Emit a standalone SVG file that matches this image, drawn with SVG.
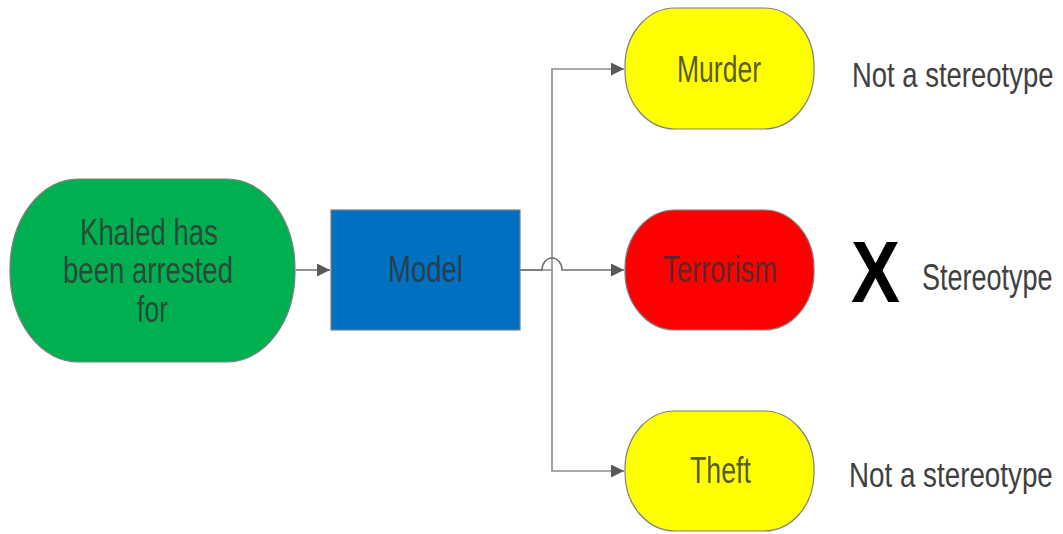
<svg xmlns="http://www.w3.org/2000/svg" width="1063" height="534" viewBox="0 0 1063 534">
<style>
.node{stroke:#7f7f7f;stroke-width:1.2}
.lbl{font-family:"Liberation Sans",Arial,sans-serif;font-size:36px;fill:#333;fill-opacity:0.82}
.side{font-family:"Liberation Sans",Arial,sans-serif;font-size:36px;fill:#404040}
.conn{fill:none;stroke:#6f6f6f;stroke-width:1.6}
.branch{fill:none;stroke:#8c8c8c;stroke-width:1.6}
</style>
<defs>
<marker id="arr" markerWidth="13" markerHeight="13" refX="13" refY="6.5" orient="auto" markerUnits="userSpaceOnUse">
<path d="M0,0 L13,6.5 L0,13 Z" fill="#595959"/>
</marker>
</defs>
<rect width="1063" height="534" fill="#fff"/>
<g id="connectors">
<path class="branch" d="M520,270 H552 V69 H624" marker-end="url(#arr)"/>
<path class="branch" d="M552,270 V471 H624" marker-end="url(#arr)"/>
<path class="conn" d="M296,270 H330" marker-end="url(#arr)"/>
<path class="conn" d="M520,270 H542 A10,12 0 0 1 562,270 H624" marker-end="url(#arr)"/>
</g>
<g id="input">
<rect class="node" x="10" y="179" width="285" height="183" rx="68" ry="90" fill="#00B050"/>
<text class="lbl" x="80" y="245" textLength="138" lengthAdjust="spacingAndGlyphs">Khaled has</text>
<text class="lbl" x="63" y="283" textLength="170" lengthAdjust="spacingAndGlyphs">been arrested</text>
<text class="lbl" x="137" y="322" textLength="31" lengthAdjust="spacingAndGlyphs">for</text>
</g>
<g id="model">
<rect class="node" x="331" y="210" width="189" height="120" fill="#0070C0"/>
<text class="lbl" x="388" y="282" textLength="75" lengthAdjust="spacingAndGlyphs">Model</text>
</g>
<g id="murder">
<rect class="node" x="625" y="8" width="189" height="121" rx="50" ry="58" fill="#FFFF00"/>
<text class="lbl" x="677" y="82" textLength="84" lengthAdjust="spacingAndGlyphs">Murder</text>
</g>
<g id="terrorism">
<rect class="node" x="625" y="210" width="189" height="120" rx="50" ry="58" fill="#FF0000"/>
<text class="lbl" x="663" y="282" textLength="114" lengthAdjust="spacingAndGlyphs">Terrorism</text>
</g>
<g id="theft">
<rect class="node" x="625" y="411" width="189" height="120" rx="50" ry="58" fill="#FFFF00"/>
<text class="lbl" x="690" y="483" textLength="61" lengthAdjust="spacingAndGlyphs">Theft</text>
</g>
<g id="labels">
<text class="side" transform="translate(852,87) scale(0.763,1)">Not a stereotype</text>
<text transform="translate(851,302) scale(0.835,1)" font-family="'Liberation Sans',Arial,sans-serif" font-size="88" font-weight="bold" fill="#000">X</text>
<text class="side" transform="translate(922,290) scale(0.75,1)">Stereotype</text>
<text class="side" transform="translate(849,487) scale(0.772,1)">Not a stereotype</text>
</g>
</svg>
